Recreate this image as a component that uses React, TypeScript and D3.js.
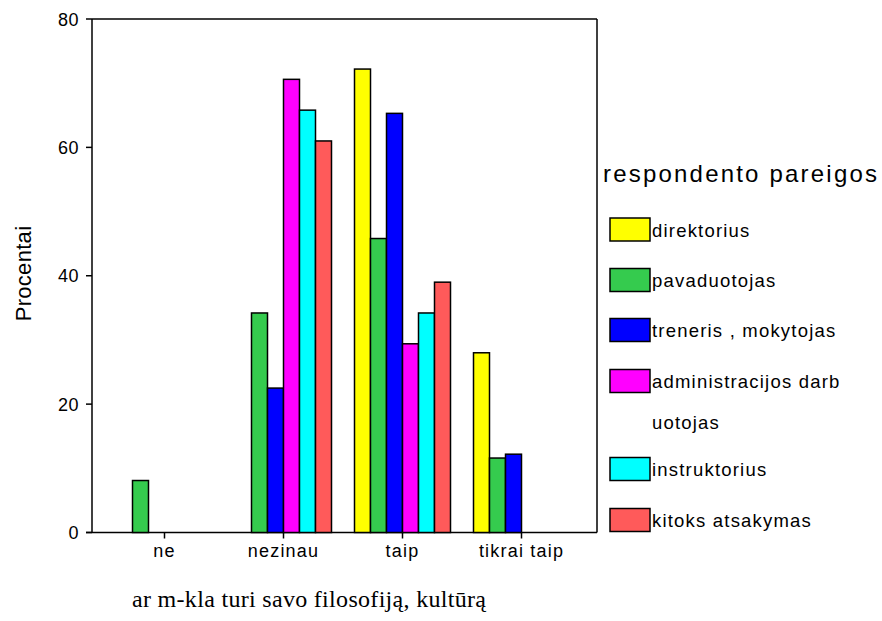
import React from "react";
import * as d3 from "d3";

const categories = ["ne", "nezinau", "taip", "tikrai taip"];
const seriesColors = ["#FFFF00", "#35CB4E", "#0000FF", "#FF00FF", "#00FFFF", "#FF5A5A"];
// percent of each respondent group, indexed by category
const direktorius = [0, 0, 72.2, 28.0];
const pavaduotojas = [8.1, 34.2, 45.8, 11.6];
const treneris = [0, 22.5, 65.3, 12.2];
const administracijos = [0, 70.6, 29.4, 0];
const instruktorius = [0, 65.8, 34.2, 0];
const kitoks = [0, 61.0, 39.0, 0];
const seriesValues = [direktorius, pavaduotojas, treneris, administracijos, instruktorius, kitoks];
const yTicks = [0, 20, 40, 60, 80];

// legend labels, wrapped as in the legend box
const legendLines = [
  ["direktorius"],
  ["pavaduotojas"],
  ["treneris , mokytojas"],
  ["administracijos darb", "uotojas"],
  ["instruktorius"],
  ["kitoks atsakymas"],
];

export default function App() {
  const W = 882, H = 621;
  const left = 92, right = 597, top = 19, bottom = 532.5;
  const y = d3.scaleLinear().domain([0, 80]).range([bottom, top]);
  const x = d3.scaleBand().domain(categories).range([105, 581]).paddingInner(0).paddingOuter(0);
  const bw = 16;
  const groupW = bw * seriesValues.length;
  const font = "Arial, 'Liberation Sans', sans-serif";

  const legendY = [229.5, 280, 330, 381, 469, 520];

  return (
    <svg width={W} height={H} style={{ position: "absolute", left: 0, top: 0, background: "#fff" }}>
      <rect x={0} y={0} width={W} height={H} fill="#fff" />
      {/* plot frame */}
      <line x1={left} y1={top} x2={right} y2={top} stroke="#000" strokeWidth={1.5} />
      <line x1={right} y1={top} x2={right} y2={bottom} stroke="#000" strokeWidth={1.5} />
      <line x1={left} y1={top} x2={left} y2={bottom} stroke="#000" strokeWidth={1.5} />
      <line x1={86} y1={bottom} x2={right} y2={bottom} stroke="#000" strokeWidth={1.5} />
      {yTicks.map((t) => (
        <g key={t}>
          <line x1={86} y1={y(t)} x2={left} y2={y(t)} stroke="#000" strokeWidth={1.5} />
          <text x={79} y={y(t) + 6.5} textAnchor="end" fontFamily={font} fontSize={18} letterSpacing={0.5} fill="#000">
            {t}
          </text>
        </g>
      ))}
      {categories.map((c) => {
        const cx = (x(c) as number) + x.bandwidth() / 2;
        return (
          <g key={c}>
            <line x1={cx} y1={bottom} x2={cx} y2={bottom + 6} stroke="#000" strokeWidth={1.5} />
            <text x={cx} y={557} textAnchor="middle" fontFamily={font} fontSize={18} letterSpacing={1.2} fill="#000">
              {c}
            </text>
          </g>
        );
      })}
      {/* grouped bars */}
      {categories.map((c, ci) => {
        const cx = (x(c) as number) + x.bandwidth() / 2;
        const x0 = cx - groupW / 2;
        return seriesValues.map((vals, si) => {
          const yy = y(vals[ci]);
          return (
            <rect
              key={c + si}
              x={x0 + si * bw}
              y={yy}
              width={bw}
              height={bottom - yy}
              fill={seriesColors[si]}
              stroke="#000"
              strokeWidth={1.5}
            />
          );
        });
      })}
      {/* axis titles */}
      <text
        transform={`translate(31,273.5) rotate(-90)`}
        textAnchor="middle"
        fontFamily={font}
        fontSize={22}
        letterSpacing={0.3}
        fill="#000"
      >
        Procentai
      </text>
      <text
        x={132}
        y={607}
        textLength={354}
        lengthAdjust="spacing"
        fontFamily="'Liberation Serif', 'Times New Roman', serif"
        fontSize={24}
        fill="#000"
      >
        ar m-kla turi savo filosofiją, kultūrą
      </text>
      {/* legend */}
      <text x={603} y={182} textLength={274} lengthAdjust="spacing" fontFamily={font} fontSize={24} fill="#000">
        respondento pareigos
      </text>
      {legendLines.map((lines, i) => (
        <g key={i}>
          <rect x={610} y={legendY[i] - 11.5} width={40} height={23} fill={seriesColors[i]} stroke="#000" strokeWidth={1.5} />
          {lines.map((ln, li) => (
            <text
              key={li}
              x={652}
              y={legendY[i] + 7 + li * 41}
              fontFamily={font}
              fontSize={18.5}
              letterSpacing={1.2}
              fill="#000"
            >
              {ln}
            </text>
          ))}
        </g>
      ))}
    </svg>
  );
}
